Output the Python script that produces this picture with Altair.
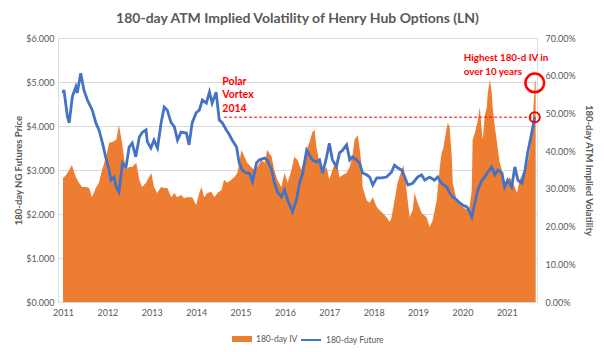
import altair as alt
import pandas as pd

# ---- data ----
fut_year = [2011.00, 2011.02, 2011.10, 2011.14, 2011.21, 2011.29, 2011.32, 2011.40, 2011.47, 2011.55,
            2011.66, 2011.74, 2011.81, 2011.89, 2011.96, 2012.04, 2012.08, 2012.15, 2012.20, 2012.26,
            2012.34, 2012.42, 2012.49, 2012.56, 2012.64, 2012.72, 2012.79, 2012.87, 2012.90, 2012.98,
            2013.05, 2013.13, 2013.21, 2013.28, 2013.35, 2013.43, 2013.51, 2013.58, 2013.66, 2013.78,
            2013.84, 2013.91, 2014.00, 2014.07, 2014.14, 2014.23, 2014.30, 2014.36, 2014.45, 2014.52,
            2014.59, 2014.68, 2014.75, 2014.81, 2014.91, 2014.97, 2015.04, 2015.13, 2015.20, 2015.27,
            2015.36, 2015.42, 2015.54, 2015.60, 2015.70, 2015.76, 2015.83, 2015.92, 2015.99, 2016.06,
            2016.17, 2016.26, 2016.33, 2016.40, 2016.49, 2016.55, 2016.62, 2016.71, 2016.78, 2016.85,
            2016.94, 2017.00, 2017.07, 2017.16, 2017.23, 2017.30, 2017.39, 2017.46, 2017.52, 2017.61,
            2017.68, 2017.75, 2017.84, 2017.91, 2017.98, 2018.07, 2018.18, 2018.29, 2018.40, 2018.47,
            2018.54, 2018.63, 2018.70, 2018.77, 2018.88, 2018.99, 2019.08, 2019.15, 2019.26, 2019.37,
            2019.44, 2019.53, 2019.65, 2019.71, 2019.78, 2019.87, 2019.94, 2020.01, 2020.10, 2020.16,
            2020.21, 2020.28, 2020.35, 2020.44, 2020.50, 2020.57, 2020.66, 2020.73, 2020.80, 2020.89,
            2020.95, 2021.02, 2021.11, 2021.18, 2021.25, 2021.34, 2021.41, 2021.47, 2021.56, 2021.63]
fut_price = [4.74, 4.82, 4.21, 4.07, 4.67, 4.89, 4.75, 5.20, 4.82, 4.59,
             4.36, 4.07, 3.91, 3.61, 3.30, 3.00, 2.77, 2.84, 2.61, 2.50,
             3.16, 3.07, 3.52, 3.61, 3.30, 3.75, 3.86, 3.91, 3.64, 3.50,
             3.68, 3.50, 4.07, 4.43, 4.36, 4.09, 3.98, 3.68, 3.86, 3.84,
             3.57, 4.07, 4.30, 4.36, 4.59, 4.52, 4.77, 4.52, 4.77, 4.14,
             4.07, 3.91, 3.80, 3.68, 3.52, 3.16, 3.00, 2.93, 2.93, 2.73,
             3.16, 3.23, 3.27, 3.23, 3.00, 2.73, 2.50, 2.39, 2.55, 2.32,
             2.05, 2.32, 2.70, 2.93, 3.45, 3.34, 3.23, 3.18, 3.23, 2.93,
             3.30, 3.61, 3.23, 3.07, 3.39, 3.45, 3.57, 3.23, 3.30, 3.23,
             3.16, 2.93, 2.89, 2.84, 2.66, 2.82, 2.82, 2.84, 2.95, 3.11,
             3.05, 3.00, 2.84, 2.66, 2.70, 2.84, 2.89, 2.77, 2.84, 2.77,
             2.84, 2.70, 2.61, 2.48, 2.39, 2.32, 2.25, 2.20, 2.16, 2.05,
             1.93, 2.25, 2.55, 2.77, 2.84, 2.95, 3.07, 2.89, 3.00, 2.93,
             2.61, 2.77, 2.61, 3.07, 2.77, 2.70, 3.00, 3.39, 3.84, 4.20]

iv_year = [2011.00, 2011.07, 2011.14, 2011.20, 2011.29, 2011.36, 2011.43, 2011.52, 2011.59, 2011.65,
           2011.74, 2011.81, 2011.88, 2011.97, 2012.04, 2012.11, 2012.20, 2012.26, 2012.33, 2012.38,
           2012.42, 2012.49, 2012.56, 2012.65, 2012.72, 2012.78, 2012.87, 2012.99, 2013.05, 2013.12,
           2013.21, 2013.28, 2013.35, 2013.44, 2013.51, 2013.57, 2013.66, 2013.73, 2013.78, 2013.84,
           2013.91, 2014.00, 2014.07, 2014.12, 2014.18, 2014.25, 2014.34, 2014.41, 2014.48, 2014.57,
           2014.63, 2014.70, 2014.79, 2014.86, 2014.93, 2015.02, 2015.09, 2015.15, 2015.24, 2015.31,
           2015.38, 2015.47, 2015.54, 2015.60, 2015.70, 2015.76, 2015.83, 2015.92, 2015.99, 2016.06,
           2016.15, 2016.21, 2016.28, 2016.37, 2016.49, 2016.55, 2016.62, 2016.67, 2016.71, 2016.78,
           2016.85, 2016.94, 2017.00, 2017.07, 2017.16, 2017.23, 2017.30, 2017.39, 2017.46, 2017.52,
           2017.57, 2017.64, 2017.68, 2017.73, 2017.75, 2017.84, 2017.91, 2017.98, 2018.07, 2018.13,
           2018.20, 2018.29, 2018.36, 2018.40, 2018.47, 2018.54, 2018.63, 2018.67, 2018.74, 2018.81,
           2018.88, 2018.92, 2018.99, 2019.08, 2019.19, 2019.26, 2019.33, 2019.42, 2019.49, 2019.53,
           2019.56, 2019.65, 2019.67, 2019.71, 2019.76, 2019.78, 2019.87, 2019.94, 2020.01, 2020.10,
           2020.16, 2020.21, 2020.23, 2020.28, 2020.35, 2020.39, 2020.44, 2020.46, 2020.50, 2020.55,
           2020.57, 2020.62, 2020.66, 2020.68, 2020.73, 2020.77, 2020.80, 2020.84, 2020.89, 2020.91,
           2021.00, 2021.07, 2021.14, 2021.23, 2021.29, 2021.36, 2021.45, 2021.52, 2021.56, 2021.59,
           2021.63, 2021.65]
iv_pct = [32.9, 33.7, 35.0, 36.3, 33.1, 31.6, 30.5, 30.5, 30.2, 27.8,
          30.2, 31.6, 35.0, 38.5, 42.2, 42.4, 43.0, 46.9, 42.2, 37.7,
          35.0, 35.8, 35.8, 36.9, 32.4, 30.5, 31.6, 34.2, 30.5, 28.9,
          30.5, 30.2, 30.2, 27.8, 28.9, 27.8, 28.4, 27.5, 27.8, 27.8,
          27.8, 25.7, 28.9, 30.5, 27.8, 28.9, 29.2, 27.8, 28.9, 29.7,
          32.4, 31.6, 32.4, 33.1, 34.2, 40.3, 38.5, 36.9, 35.8, 35.0,
          35.8, 37.7, 36.9, 40.3, 38.5, 35.0, 32.4, 30.5, 34.2, 31.6,
          35.0, 38.5, 37.7, 35.0, 40.3, 42.2, 45.1, 45.6, 41.1, 36.9,
          34.2, 35.8, 32.4, 35.0, 37.7, 33.1, 33.7, 34.2, 35.8, 38.5,
          43.0, 44.3, 41.1, 35.8, 30.5, 27.0, 26.3, 27.8, 25.2, 24.4,
          23.6, 22.5, 21.2, 22.3, 27.0, 31.6, 35.0, 36.3, 29.7, 22.5,
          24.4, 28.9, 26.3, 23.6, 22.5, 19.9, 21.7, 27.0, 35.8, 39.5,
          40.3, 46.4, 47.5, 46.4, 38.5, 31.6, 27.0, 26.3, 25.2, 24.4,
          25.2, 29.7, 43.0, 44.8, 48.3, 51.7, 44.8, 43.0, 49.1, 51.7,
          55.4, 58.9, 55.4, 51.7, 46.4, 43.0, 40.3, 36.9, 35.0, 32.4,
          31.6, 33.1, 31.6, 28.9, 32.4, 34.2, 35.8, 40.3, 44.8, 49.1,
          58.0, 58.9]

year_ticks = list(range(2011, 2022))
price_ticks = [0, 1, 2, 3, 4, 5, 6]
iv_ticks = [0, 0.1, 0.2, 0.3, 0.4, 0.5, 0.6, 0.7]

# annotations (anchored in data coordinates)
polar_note = {"text": "Polar\nVortex\n2014", "year": 2014.59, "price": 5.12}
high_note = {"text": "Highest 180-d IV in\nover 10 years", "year": 2020.03, "iv": 0.66}
dash_level = {"price": 4.20, "start": 2014.63, "end": 2021.63}
big_circle = {"year": 2021.63, "iv": 0.581}
small_circle = {"year": 2021.63, "price": 4.20}

fut_df = pd.DataFrame({"year": fut_year, "price": fut_price, "series": "180-day Future"})
iv_df = pd.DataFrame({"year": iv_year, "iv": [v / 100 for v in iv_pct], "series": "180-day IV"})

GREY = "#595959"
RED = "#FF0000"
FONT = "Lato"

x_enc = alt.X("year:Q", scale=alt.Scale(domain=[2010.887, 2021.68], nice=False, zero=False),
              axis=alt.Axis(values=year_ticks, format="d", title=None, grid=False, ticks=False,
                            domainColor="#D9D9D9", labelColor=GREY, labelFontSize=9,
                            labelFont=FONT, labelPadding=6, labelFlush=False))

price_axis = alt.Axis(values=price_ticks, format="$,.3f", title="180-day NG Futures Price",
                      grid=True, gridColor="#D9D9D9", ticks=False, domain=False,
                      labelColor=GREY, labelFontSize=9, labelFont=FONT, labelPadding=4,
                      titleColor=GREY, titleFontSize=9.5, titleFont=FONT, titleFontWeight="bold",
                      titlePadding=2)
price_scale = alt.Scale(domain=[0, 6], nice=False)

iv_axis = alt.Axis(values=iv_ticks, format=".2%", title="180-day ATM Implied Volatility",
                   orient="right", grid=False, ticks=False, domain=False,
                   labelColor=GREY, labelFontSize=9, labelFont=FONT, labelPadding=8,
                   titleColor=GREY, titleFontSize=9.5, titleFont=FONT, titleFontWeight="bold",
                   titlePadding=8)
iv_scale = alt.Scale(domain=[0, 0.7], nice=False)

area = alt.Chart(iv_df).mark_area().encode(
    x=x_enc,
    y=alt.Y("iv:Q", scale=iv_scale, axis=iv_axis),
    color=alt.Color("series:N", scale=alt.Scale(domain=["180-day IV"], range=["#ED7D31"]),
                    legend=alt.Legend(title=None, orient="none", legendX=174, legendY=291,
                                      symbolType="M-1,-0.3H1V0.3H-1Z", symbolSize=400,
                                      symbolStrokeWidth=0, labelFontSize=8.5, labelColor=GREY,
                                      labelFont=FONT, padding=0)),
)

big_c = alt.Chart(pd.DataFrame([big_circle])).mark_point(
    shape="circle", size=350, filled=False, stroke=RED, strokeWidth=2.5, opacity=1
).encode(x="year:Q", y=alt.Y("iv:Q", scale=iv_scale, axis=iv_axis))

high_t = alt.Chart(pd.DataFrame([high_note])).mark_text(
    align="left", baseline="top", color=RED, fontWeight="bold", fontSize=9.8, font=FONT,
    lineBreak="\n", lineHeight=14
).encode(x="year:Q", y=alt.Y("iv:Q", scale=iv_scale, axis=iv_axis), text="text:N")

iv_layer = alt.layer(area, big_c, high_t)

line = alt.Chart(fut_df).mark_line(strokeWidth=2.8).encode(
    x=x_enc,
    y=alt.Y("price:Q", scale=price_scale, axis=price_axis),
    color=alt.Color("series:N", scale=alt.Scale(domain=["180-day Future"], range=["#4472C4"]),
                    legend=alt.Legend(title=None, orient="none", legendX=242, legendY=291,
                                      symbolType="stroke", symbolSize=400, symbolStrokeWidth=2,
                                      labelFontSize=8.5, labelColor=GREY, labelFont=FONT,
                                      padding=0)),
)

dash = alt.Chart(pd.DataFrame([dash_level])).mark_rule(
    color=RED, strokeWidth=1, strokeDash=[3, 2]
).encode(x="start:Q", x2="end:Q", y=alt.Y("price:Q", scale=price_scale, axis=price_axis))

small_c = alt.Chart(pd.DataFrame([small_circle])).mark_point(
    shape="circle", size=100, filled=False, stroke=RED, strokeWidth=2, opacity=1
).encode(x="year:Q", y=alt.Y("price:Q", scale=price_scale, axis=price_axis))

polar_t = alt.Chart(pd.DataFrame([polar_note])).mark_text(
    align="left", baseline="top", color=RED, fontWeight="bold", fontSize=10.5, font=FONT,
    lineBreak="\n", lineHeight=13.5
).encode(x="year:Q", y=alt.Y("price:Q", scale=price_scale, axis=price_axis), text="text:N")

price_layer = alt.layer(line, dash, small_c, polar_t)

chart = alt.layer(iv_layer, price_layer).resolve_scale(
    y="independent", color="independent"
).properties(
    width=479, height=264,
    autosize=alt.AutoSizeParams(type="none"),
    padding={"left": 58, "top": 38, "right": 67, "bottom": 50},
    title=alt.Title("180-day ATM Implied Volatility of Henry Hub Options (LN)",
                    anchor="middle", fontSize=14, font=FONT, fontWeight="bold",
                    color=GREY, offset=8),
).configure_view(stroke=None).configure(background="white")

chart.save("out.html", embed_options={"renderer": "svg", "actions": False})
